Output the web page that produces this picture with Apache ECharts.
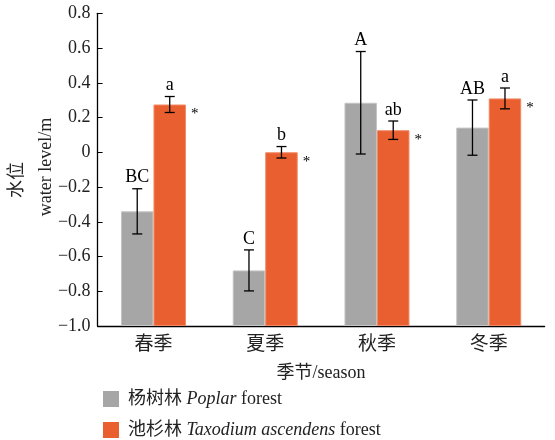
<!DOCTYPE html>
<html><head><meta charset="utf-8">
<script src="https://cdn.jsdelivr.net/npm/echarts@6/dist/echarts.min.js"></script>
<style>html,body{margin:0;padding:0;background:#fff}#c{width:555px;height:440px}</style>
</head><body><div id="c"></div>
<script>
const categories = ['春季', '夏季', '秋季', '冬季'];
const poplarMean = [-0.34, -0.68, 0.285, 0.142];
const poplarErr = [0.13, 0.118, 0.295, 0.159];
const poplarLetters = ['BC', 'C', 'A', 'AB'];
const taxoMean = [0.275, 0.0, 0.127, 0.31];
const taxoErr = [0.046, 0.033, 0.053, 0.06];
const taxoLetters = ['a', 'b', 'ab', 'a'];
const taxoStar = ['*', '*', '*', '*'];
const yTicks = { min: -1.0, max: 0.8, interval: 0.2 };

const serif = '"Liberation Serif", "Times New Roman", serif';
const cjk = '"Liberation Serif", "Noto Sans CJK SC", serif';
const BAR_W = 32.5;
const GRAY = '#a6a6a6', ORANGE = '#ea5f30';

function barSeries(name, color, edge, mean, err, letters, stars, sign) {
  return {
    name: name,
    type: 'custom',
    itemStyle: { color: color },
    data: mean.map((m, i) => [i, m, err[i]]),
    encode: { x: 0, y: 1 },
    silent: true,
    renderItem: function (params, api) {
      const i = api.value(0), m = api.value(1), e = api.value(2);
      const top = api.coord([i, m + e]);
      const bot = api.coord([i, m - e]);
      const mid = api.coord([i, m]);
      const base = api.coord([i, yTicks.min]);
      const center = mid[0];
      const x0 = sign < 0 ? center - BAR_W : center;
      const cx = center + sign * BAR_W / 2;
      const cap = 5;
      const ls = { stroke: '#000', lineWidth: 1.3 };
      const children = [
        { type: 'rect', shape: { x: x0 + 0.5, y: mid[1] + 0.5, width: BAR_W - 1, height: base[1] - mid[1] - 1 },
          style: { fill: color, stroke: edge, lineWidth: 1 } },
        { type: 'line', shape: { x1: cx, y1: top[1], x2: cx, y2: bot[1] }, style: ls },
        { type: 'line', shape: { x1: cx - cap, y1: top[1], x2: cx + cap, y2: top[1] }, style: ls },
        { type: 'line', shape: { x1: cx - cap, y1: bot[1], x2: cx + cap, y2: bot[1] }, style: ls },
        { type: 'text', style: { text: letters[params.dataIndex], x: cx, y: top[1] - 2, align: 'center', verticalAlign: 'bottom', font: '18px ' + serif, fill: '#000' } }
      ];
      if (stars) {
        children.push({ type: 'text', style: { text: stars[params.dataIndex], x: cx + BAR_W / 2 + 5, y: mid[1] + 2, align: 'left', verticalAlign: 'top', font: '15px ' + serif, fill: '#000' } });
      }
      return { type: 'group', children: children };
    }
  };
}

const chart = echarts.init(document.getElementById('c'));
chart.setOption({
  animation: false,
  backgroundColor: '#fff',
  grid: { left: 97.6, right: 10.4, top: 13.3, bottom: 114, containLabel: false },
  xAxis: {
    type: 'category', data: categories,
    axisLine: { onZero: false, lineStyle: { color: '#000', width: 1.3 } },
    axisTick: { inside: true, length: 5, lineStyle: { color: '#000' } },
    axisLabel: { color: '#222', fontFamily: cjk, fontSize: 19, margin: 10 },
    name: '季节/season', nameLocation: 'middle', nameGap: 38,
    nameTextStyle: { color: '#222', fontFamily: cjk, fontSize: 18 }
  },
  yAxis: {
    type: 'value', min: yTicks.min, max: yTicks.max, interval: yTicks.interval,
    axisLine: { show: true, lineStyle: { color: '#000', width: 1.3 } },
    axisTick: { show: true, inside: true, length: 5, lineStyle: { color: '#000' } },
    splitLine: { show: false },
    axisLabel: {
      color: '#222', fontFamily: serif, fontSize: 18, margin: 7,
      formatter: v => Math.abs(v) < 1e-9 ? '0' : (v < 0 ? '\u2212' : '') + Math.abs(v).toFixed(1)
    }
  },
  graphic: [
    { type: 'text', x: 17, y: 180, rotation: Math.PI / 2,
      style: { text: '水位', align: 'center', verticalAlign: 'middle', font: '18px ' + cjk, fill: '#222' } },
    { type: 'text', x: 46, y: 167, rotation: Math.PI / 2,
      style: { text: 'water level/m', align: 'center', verticalAlign: 'middle', font: '18px ' + serif, fill: '#222' } }
  ],
  legend: {
    orient: 'vertical', left: 98, top: 385, itemWidth: 16, itemHeight: 16, itemGap: 13,
    icon: 'rect', height: 60,
    textStyle: {
      color: '#222', fontFamily: cjk, fontSize: 18, lineHeight: 16, padding: [0, 0, 0, 4],
      rich: {
        cn: { fontFamily: cjk, fontSize: 18, color: '#222', lineHeight: 16 },
        it: { fontFamily: serif, fontStyle: 'italic', fontSize: 18, color: '#222', lineHeight: 16 },
        n: { fontFamily: serif, fontSize: 18, color: '#222', lineHeight: 16 }
      }
    },
    formatter: function (name) {
      if (name === 'poplar') return '{cn|杨树林} {it|Poplar} {n|forest}';
      return '{cn|池杉林} {it|Taxodium ascendens} {n|forest}';
    },
    data: ['poplar', 'taxo']
  },
  series: [
    barSeries('poplar', GRAY, '#c4c4c4', poplarMean, poplarErr, poplarLetters, null, -1),
    barSeries('taxo', ORANGE, '#f08a66', taxoMean, taxoErr, taxoLetters, taxoStar, 1)
  ]
});
</script></body></html>
